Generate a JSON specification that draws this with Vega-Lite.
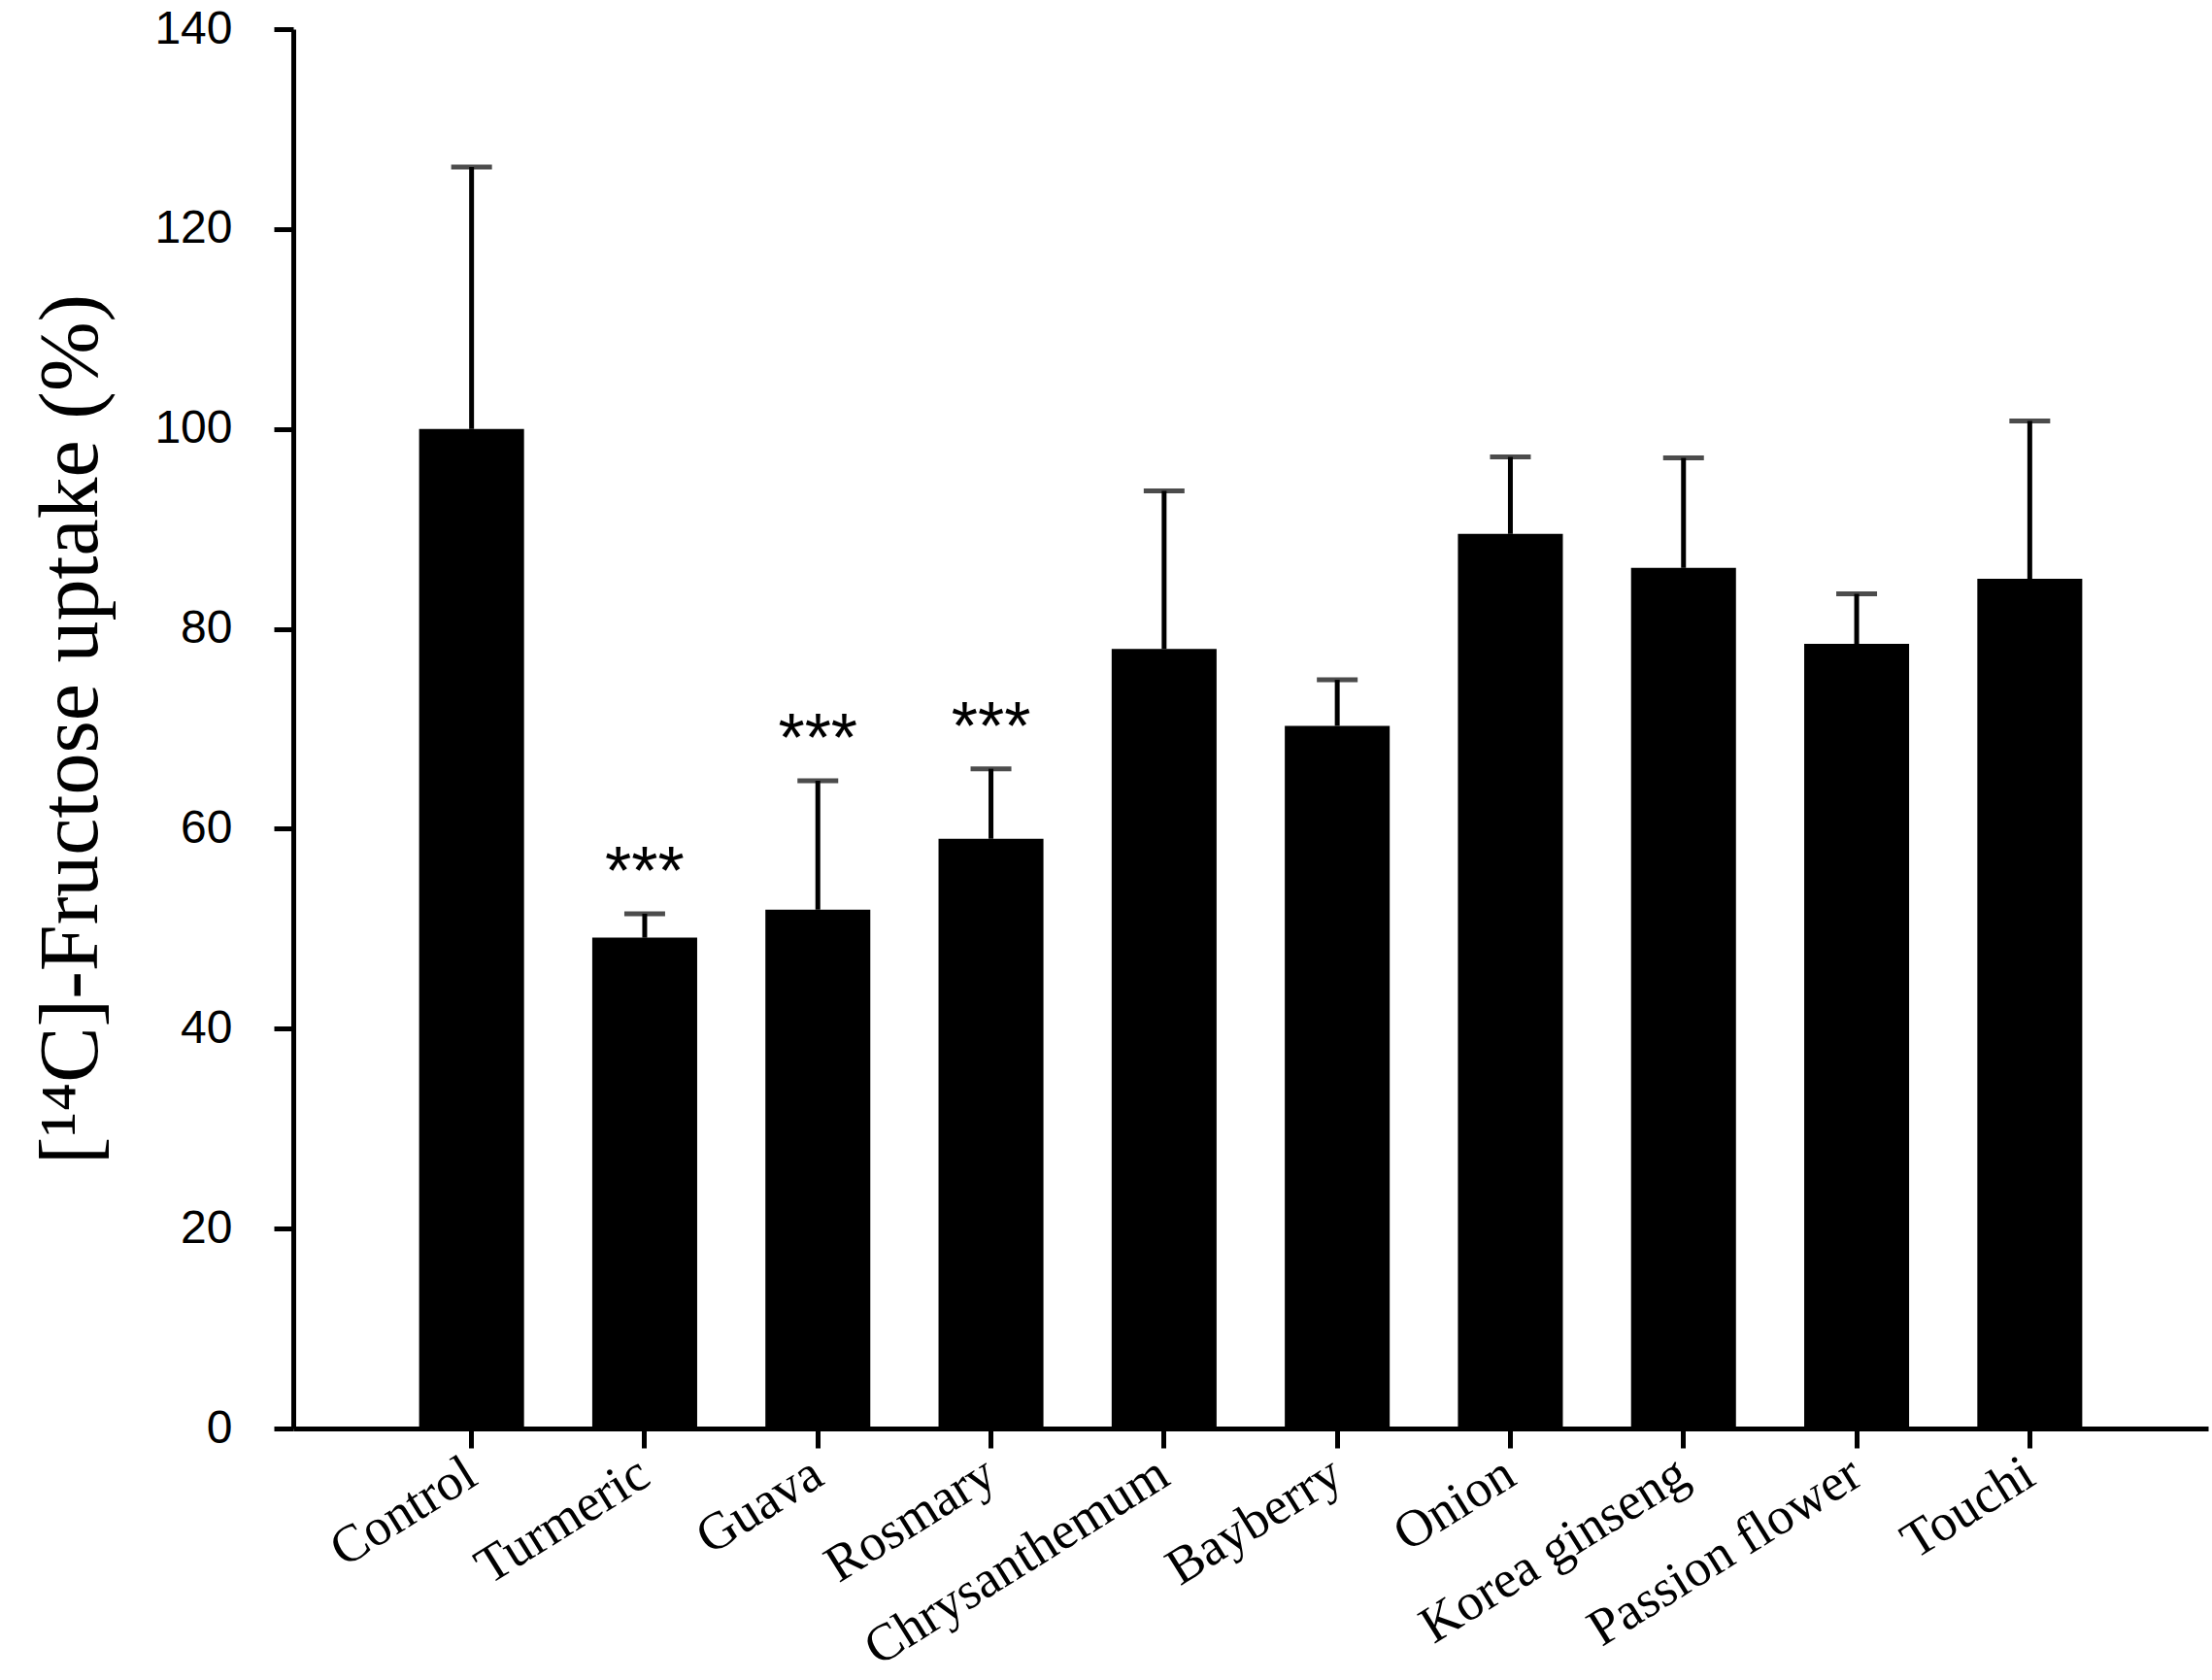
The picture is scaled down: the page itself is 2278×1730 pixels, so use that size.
{
  "$schema": "https://vega.github.io/schema/vega-lite/v6.json",
  "width": 1972,
  "height": 1441,
  "autosize": {"type": "none"},
  "padding": {"left": 302, "top": 30, "right": 4, "bottom": 259},
  "background": "white",
  "data": {
    "values": [
      {"extract": "Control", "uptake": 100.0, "err": 126.2, "sig": ""},
      {"extract": "Turmeric", "uptake": 49.1, "err": 51.5, "sig": "***"},
      {"extract": "Guava", "uptake": 51.9, "err": 64.8, "sig": "***"},
      {"extract": "Rosmary", "uptake": 59.0, "err": 66.0, "sig": "***"},
      {"extract": "Chrysanthemum", "uptake": 78.0, "err": 93.8, "sig": ""},
      {"extract": "Bayberry", "uptake": 70.3, "err": 74.9, "sig": ""},
      {"extract": "Onion", "uptake": 89.5, "err": 97.2, "sig": ""},
      {"extract": "Korea ginseng", "uptake": 86.1, "err": 97.1, "sig": ""},
      {"extract": "Passion flower", "uptake": 78.5, "err": 83.5, "sig": ""},
      {"extract": "Touchi", "uptake": 85.0, "err": 100.8, "sig": ""}
    ]
  },
  "encoding": {
    "x": {
      "field": "extract",
      "type": "nominal",
      "sort": null,
      "scale": {"paddingInner": 0.394, "paddingOuter": 0.727},
      "axis": {
        "title": null,
        "domainWidth": 5,
        "domainColor": "black",
        "tickWidth": 5,
        "tickColor": "black",
        "tickSize": 20,
        "labelFont": "Liberation Serif",
        "labelFontSize": 54,
        "labelColor": "black",
        "labelAngle": -32,
        "labelAlign": "right",
        "labelBaseline": "middle",
        "labelPadding": 22,
        "labelLimit": 0,
        "labelOverlap": false
      }
    }
  },
  "layer": [
    {
      "mark": {"type": "bar", "color": "black"},
      "encoding": {
        "y": {
          "field": "uptake",
          "type": "quantitative",
          "scale": {"domain": [0, 140], "nice": false},
          "axis": {
            "title": "[¹⁴C]-Fructose uptake (%)",
            "titleFont": "Liberation Serif",
            "titleFontSize": 86,
            "titleFontWeight": "normal",
            "titleColor": "black",
            "titlePadding": 41,
            "values": [0, 20, 40, 60, 80, 100, 120, 140],
            "grid": false,
            "domainWidth": 5,
            "domainColor": "black",
            "tickWidth": 5,
            "tickColor": "black",
            "tickSize": 20,
            "labelFont": "Liberation Sans",
            "labelFontSize": 48,
            "labelColor": "black",
            "labelPadding": 43
          }
        }
      }
    },
    {
      "mark": {"type": "rule", "color": "black", "strokeWidth": 5},
      "encoding": {
        "y": {"field": "uptake", "type": "quantitative"},
        "y2": {"field": "err"}
      }
    },
    {
      "mark": {"type": "tick", "color": "black", "thickness": 5, "size": 42, "orient": "horizontal"},
      "encoding": {
        "y": {"field": "err", "type": "quantitative"}
      }
    },
    {
      "mark": {"type": "text", "font": "Liberation Sans", "fontSize": 70, "color": "black", "baseline": "alphabetic", "dy": -20},
      "encoding": {
        "y": {"field": "err", "type": "quantitative"},
        "text": {"field": "sig"}
      }
    }
  ],
  "config": {
    "view": {"stroke": null}
  }
}
